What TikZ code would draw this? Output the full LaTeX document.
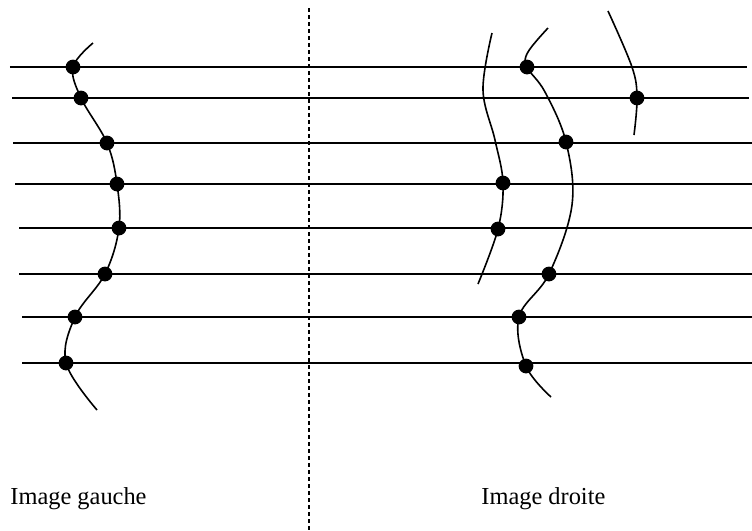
\documentclass[tikz,border=0pt]{standalone}
\usepackage{fontspec}
\setmainfont{Liberation Serif}
\usetikzlibrary{positioning}

\tikzset{
  ligne/.style={line width=0.9pt},
  courbe/.style={line width=0.8pt, smooth, tension=0.6},
  appariement/.style={circle, fill=black, inner sep=0pt, minimum size=7.4pt},
  separation/.style={line width=0.7pt, dash pattern=on 2pt off 1.5pt},
  legende/.style={font=\fontsize{12.2}{14}\selectfont, inner sep=0pt}
}

\begin{document}
\begin{tikzpicture}[x=0.5pt, y=-0.5pt]
\useasboundingbox (0,0) rectangle (752,531);

% lignes epipolaires
\foreach \y/\xl/\xr [count=\i] in {67/10/747, 98/12/749, 143/13/752, 184/15/752,
                                   228/19/752, 274/19/752, 317/22/752, 363/22/752}{
  \coordinate (l\i) at (\xl,\y);
  \coordinate (r\i) at (\xr,\y);
  \draw[ligne] (l\i) -- (r\i);
}

% separation des deux images
\coordinate (septop) at (309,8);
\coordinate (sepbot) at (309,531);
\draw[separation] (septop) -- (sepbot);

% image gauche
\coordinate (g0) at (93,43);
\node[appariement] (g1) at (73,67) {};
\node[appariement] (g2) at (81,98) {};
\node[appariement] (g3) at (107,143) {};
\node[appariement] (g4) at (117,184) {};
\node[appariement] (g5) at (119,228) {};
\node[appariement] (g6) at (105,274) {};
\node[appariement] (g7) at (75,317) {};
\node[appariement] (g8) at (66,363) {};
\coordinate (g9) at (97,410);
\draw[courbe] plot coordinates {(g0) (g1) (g2) (g3) (g4) (g5) (g6) (g7) (g8) (g9)};

% image droite, premiere courbe
\coordinate (a0) at (492,33);
\coordinate (a1) at (483,90);
\coordinate (a2) at (495,140);
\node[appariement] (a3) at (503,183) {};
\node[appariement] (a4) at (498,229) {};
\coordinate (a5) at (478,284);
\draw[courbe] plot coordinates {(a0) (a1) (a2) (a3) (a4) (a5)};

% image droite, deuxieme courbe
\coordinate (b0) at (548,28);
\coordinate (b1) at (528,52);
\node[appariement] (b2) at (527,67) {};
\coordinate (b3) at (545,92);
\node[appariement] (b4) at (566,142) {};
\coordinate (b5) at (572,205);
\node[appariement] (b6) at (549,274) {};
\node[appariement] (b7) at (519,317) {};
\node[appariement] (b8) at (526,366) {};
\coordinate (b9) at (551,397);
\draw[courbe] plot coordinates {(b0) (b1) (b2) (b3) (b4) (b5) (b6) (b7) (b8) (b9)};

% image droite, troisieme courbe
\coordinate (c0) at (608,11);
\coordinate (c1) at (632,67);
\node[appariement] (c2) at (637,98) {};
\coordinate (c3) at (634,135);
\draw[courbe] plot coordinates {(c0) (c1) (c2) (c3)};

% legendes
\node[legende, anchor=base west] (gauche) at (10,504) {Image gauche};
\node[legende, anchor=base west] (droite) at (481,504) {Image droite};
\end{tikzpicture}
\end{document}
